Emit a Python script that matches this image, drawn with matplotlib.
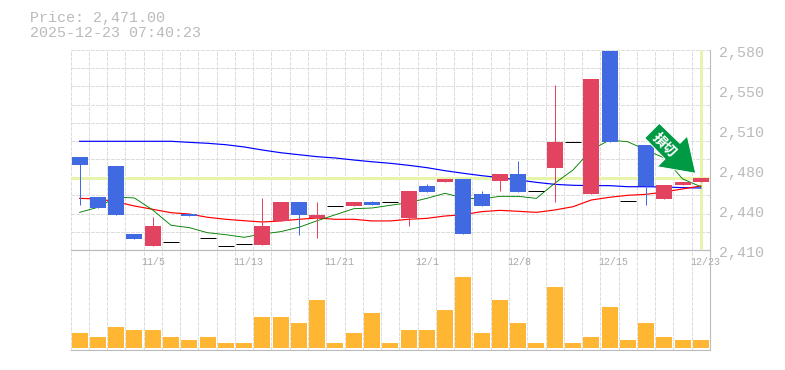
import numpy as np
import matplotlib
matplotlib.use("Agg")
import matplotlib.pyplot as plt
from matplotlib.patches import Polygon

# daily candles
opens = [2489, 2455, 2481, 2424, 2413, 2417, 2441, 2420, 2413, 2415, 2414, 2435,
         2451, 2437, 2447, 2447, 2451, 2451, 2437, 2464, 2468, 2470, 2458, 2469,
         2475, 2460, 2480, 2502, 2458, 2579, 2452, 2499, 2453, 2465, 2468]
highs = [2489, 2455, 2481, 2424, 2438, 2417, 2441, 2420, 2413, 2415, 2454, 2451,
         2451, 2451, 2447, 2451, 2452, 2451, 2460, 2466, 2470, 2470, 2460, 2475,
         2486, 2460, 2550, 2502, 2555, 2579, 2452, 2499, 2465, 2468, 2471]
lows = [2448, 2446, 2440, 2419, 2413, 2417, 2439, 2420, 2413, 2415, 2414, 2435,
        2423, 2420, 2447, 2447, 2448, 2451, 2430, 2459, 2468, 2424, 2447, 2460,
        2459, 2460, 2451, 2502, 2458, 2502, 2452, 2448, 2453, 2465, 2468]
closes = [2482, 2446, 2440, 2419, 2430, 2417, 2439, 2420, 2413, 2415, 2430, 2451,
          2440, 2440, 2447, 2451, 2448, 2451, 2460, 2459, 2470, 2424, 2447, 2475,
          2459, 2460, 2502, 2502, 2555, 2502, 2452, 2464, 2465, 2468, 2471]
volumes = [15, 11, 21, 18, 18, 11, 8, 11, 5, 5, 31, 31, 25, 48, 5, 15, 35, 5,
           18, 18, 38, 71, 15, 48, 25, 5, 61, 5, 11, 41, 8, 25, 11, 8, 8]

# moving averages
ma_short = [2442, 2446.3, 2455, 2454.2, 2444, 2431, 2429, 2424.7, 2423, 2420.8, 2423.6, 2425.6,
            2429.3, 2434.9, 2440, 2445.1, 2445.7, 2448, 2450.2, 2453.9, 2458.2, 2454.2, 2453.4, 2455.6,
            2455.6, 2453.9, 2466.7, 2478, 2495, 2503.5, 2502, 2495, 2488.2, 2470.4, 2463.8]
ma_mid = [2453.9, 2453.4, 2451, 2447.4, 2444.6, 2441.7, 2440.6, 2437.8, 2436.1, 2434.9, 2433.8, 2434.7,
          2436.1, 2437.2, 2436.1, 2436.1, 2434.7, 2434.7, 2436.1, 2436.9, 2438.9, 2440, 2442.6, 2443.7,
          2442.9, 2442, 2444, 2446.8, 2452.5, 2454.8, 2456.5, 2457.3, 2459.3, 2461.9, 2464.4]
ma_long = [2502.4, 2502.4, 2502.4, 2502.4, 2502.4, 2502.4, 2501.5, 2500.7, 2499.5, 2497.6, 2495, 2492.7,
           2491, 2489.3, 2488.2, 2486.5, 2485, 2483.7, 2482, 2480, 2477.4, 2475.2, 2473.2, 2471.5,
           2469.5, 2467.5, 2465.8, 2465, 2464.7, 2464.7, 2463.8, 2463.8, 2463.6, 2463, 2462.7]

last_price = 2471
date_idx = [4, 9, 14, 19, 24, 29, 34]
date_labels = ["11/5", "11/13", "11/21", "12/1", "12/8", "12/15", "12/23"]
price_ticks = [2410, 2444, 2478, 2512, 2546, 2580]
price_labels = ["2,410", "2,440", "2,480", "2,510", "2,550", "2,580"]

W, H = 785, 370
GRAY = "#bbbbbb"
GRID = "#dddddd"
RED = "#e24360"
BLUE = "#4169e1"
plt.rcParams["font.family"] = "Liberation Mono"

fig = plt.figure(figsize=(W / 100, H / 100), dpi=100)
ax = fig.add_axes([70.5 / W, (H - 250) / H, 639.5 / W, 200 / H])
ax2 = fig.add_axes([70.5 / W, (H - 350) / H, 639.5 / W, 100 / H])
ax2.patch.set_alpha(0)

x = np.arange(len(opens)) + 0.5
bw = 16 / 18.27
px = 0.72

for a in (ax, ax2):
    a.set_xlim(0, 35)
    a.set_xticks(np.arange(36))
    a.tick_params(length=0, labelbottom=False, labelleft=False)
    a.grid(True, axis="x", color=GRID, lw=px, ls=(0, (3, 2)), antialiased=False)
    a.set_axisbelow(True)
    for s in a.spines.values():
        s.set_visible(False)
    for s in ("bottom", "right"):
        a.spines[s].set_visible(True)
        a.spines[s].set_color(GRAY)
        a.spines[s].set_linewidth(0.8)

ax2.spines["top"].set_visible(True)
ax2.spines["top"].set_color(GRAY)
ax2.spines["top"].set_linewidth(0.8)

ax.set_ylim(2410, 2580)
ax.set_yticks(2410 + np.arange(12) * 170 / 11)
ax.grid(True, axis="y", color=GRID, lw=px, ls=(0, (3, 2)), antialiased=False)

# current price cross
ax.axhline(last_price, color="#e6f5ab", lw=2.2, zorder=1)
ax.plot([x[-1], x[-1]], [2411, 2580], color="#e6f5ab", lw=2.2, zorder=1, solid_capstyle="butt")

ax.plot(x, ma_long, color="#0000ff", lw=0.85, zorder=2)
ax.plot(x, ma_mid, color="#ff0000", lw=0.85, zorder=2)
ax.plot(x, ma_short, color="#008000", lw=0.65, zorder=2)

for i in range(len(opens)):
    o, h, l, c = opens[i], highs[i], lows[i], closes[i]
    col = RED if c > o else BLUE if c < o else "black"
    if c == o:
        ax.plot([x[i] - bw / 2, x[i] + bw / 2], [o, o], color="black", lw=px, zorder=3,
                solid_capstyle="butt")
        continue
    ax.plot([x[i], x[i]], [l, h], color=col, lw=px, zorder=3, solid_capstyle="butt")
    ax.bar(x[i], abs(c - o), bottom=min(o, c), width=bw, color=col, lw=0, zorder=4, antialiased=False)

ax2.set_ylim(-2, 98)
ax2.bar(x, volumes, width=bw, color="#ffb733", lw=0, zorder=3, antialiased=False)

for val, lab in zip(price_ticks, price_labels):
    ax.annotate(lab, xy=(1, val), xycoords=("axes fraction", "data"), xytext=(9.5, -3.5),
                textcoords="offset pixels", color=GRAY, fontsize=10.8, va="center", ha="left",
                annotation_clip=False)

for i, lab in zip(date_idx, date_labels):
    ax2.annotate(lab, xy=(x[i], 1), xycoords=("data", "axes fraction"), xytext=(-11, -12),
                 textcoords="offset pixels", color="#aaaaaa", fontsize=7.2, va="center", ha="left",
                 annotation_clip=False, zorder=2)

fig.text(30 / W, 1 - 18 / H, "Price: 2,471.00", color=GRAY, fontsize=10.8, va="center")
fig.text(30 / W, 1 - 33 / H, "2025-12-23 07:40:23", color=GRAY, fontsize=10.8, va="center")

# stop loss arrow
arrow_px = [(659.3, 123.3), (644.7, 138), (665, 159), (657.3, 166.7),
            (695.7, 173.3), (687.3, 136), (680, 143.3)]
fig.add_artist(Polygon([(a / W, 1 - b / H) for a, b in arrow_px], closed=True,
                       transform=fig.transFigure, facecolor="#009944",
                       edgecolor="#ffffff", lw=0.7, zorder=10))
fig.text(664 / W, 1 - 145 / H, "損切", color="white", fontsize=10, rotation=-45, fontweight="bold",
         family="Noto Sans CJK JP", ha="center", va="center", rotation_mode="anchor", zorder=11)

fig.savefig("out.png", dpi=100)
